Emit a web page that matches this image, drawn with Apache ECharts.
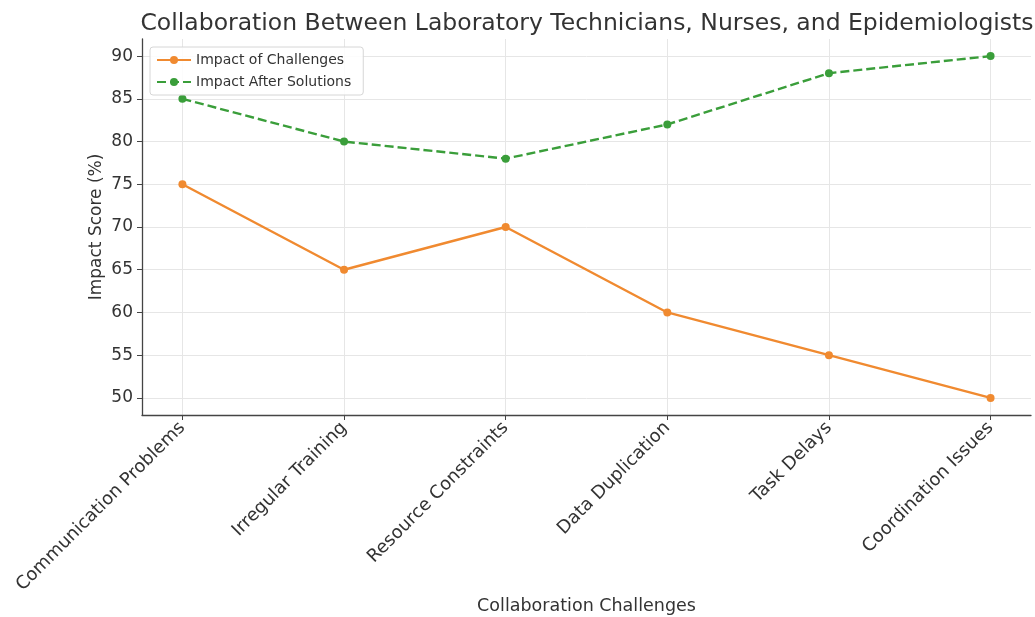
<!DOCTYPE html>
<html>
<head>
<meta charset="utf-8">
<script src="https://cdn.jsdelivr.net/npm/echarts@6/dist/echarts.min.js"></script>
<style>
  html, body { margin: 0; padding: 0; background: #fff; }
  #chart { width: 1035px; height: 617px; }
</style>
</head>
<body>
<div id="chart"></div>
<script>
// Collaboration challenges and impact scores
const categories = [
  'Communication Problems',
  'Irregular Training',
  'Resource Constraints',
  'Data Duplication',
  'Task Delays',
  'Coordination Issues'
];
const impactOfChallenges = [75, 65, 70, 60, 55, 50];
const impactAfterSolutions = [85, 80, 78, 82, 88, 90];
const yTicks = [50, 55, 60, 65, 70, 75, 80, 85, 90];

const FONT = 'DejaVu Sans';
const TEXT = '#333333';
const ORANGE = '#f08a30';
const GREEN = '#3a9e3a';

const xIdx = categories.map((_, i) => i);
const toPoints = vals => vals.map((v, i) => [i, v]);

const chart = echarts.init(document.getElementById('chart'), null, { renderer: 'canvas' });

chart.setOption({
  backgroundColor: '#ffffff',
  animation: false,
  title: {
    text: 'Collaboration Between Laboratory Technicians, Nurses, and Epidemiologists',
    left: 582,
    textAlign: 'center',
    top: 7,
    textStyle: { fontFamily: FONT, fontSize: 23.5, fontWeight: 'normal', color: TEXT }
  },
  legend: {
    orient: 'vertical',
    left: 150,
    top: 47,
    itemWidth: 34,
    itemHeight: 10,
    itemGap: 8,
    padding: [6, 12, 6, 6],
    borderColor: '#d6d6d6',
    borderWidth: 1,
    borderRadius: 3,
    backgroundColor: 'rgba(255,255,255,0.85)',
    textStyle: { fontFamily: FONT, fontSize: 14, color: TEXT },
    data: ['Impact of Challenges', 'Impact After Solutions']
  },
  grid: { left: 142, right: 4, top: 39, bottom: 202, outerBoundsMode: 'none', containLabel: false },
  xAxis: {
    type: 'value',
    min: -0.25,
    max: 5.25,
    name: 'Collaboration Challenges',
    nameLocation: 'middle',
    nameGap: 182,
    nameMoveOverlap: false,
    nameTextStyle: { fontFamily: FONT, fontSize: 17.5, color: TEXT },
    axisLine: { show: true, onZero: false, lineStyle: { color: '#444', width: 1.3 } },
    axisTick: { show: true, customValues: xIdx, length: 5, lineStyle: { color: '#444' } },
    axisLabel: {
      customValues: xIdx,
      rotate: 45,
      margin: 10,
      fontFamily: FONT,
      fontSize: 18,
      color: TEXT,
      formatter: v => categories[Math.round(v)] || ''
    },
    splitLine: { show: true, lineStyle: { color: '#e6e6e6', width: 1 } }
  },
  yAxis: {
    type: 'value',
    min: 48,
    max: 92,
    name: 'Impact Score (%)',
    nameLocation: 'middle',
    nameGap: 37,
    nameMoveOverlap: false,
    nameTextStyle: { fontFamily: FONT, fontSize: 17, color: TEXT },
    axisLine: { show: true, onZero: false, lineStyle: { color: '#444', width: 1.3 } },
    axisTick: { show: true, customValues: yTicks, length: 5, lineStyle: { color: '#444' } },
    axisLabel: { customValues: yTicks, margin: 9, fontFamily: FONT, fontSize: 17, color: TEXT },
    splitLine: { show: true, lineStyle: { color: '#e6e6e6', width: 1 } }
  },
  series: [
    {
      name: 'Impact of Challenges',
      type: 'line',
      data: toPoints(impactOfChallenges),
      symbol: 'circle',
      symbolSize: 8,
      color: ORANGE,
      lineStyle: { color: ORANGE, width: 2.4 },
      itemStyle: { color: ORANGE }
    },
    {
      name: 'Impact After Solutions',
      type: 'line',
      data: toPoints(impactAfterSolutions),
      symbol: 'circle',
      symbolSize: 8,
      color: GREEN,
      lineStyle: { color: GREEN, width: 2.4, type: [9, 4] },
      itemStyle: { color: GREEN }
    }
  ]
});
</script>
</body>
</html>
